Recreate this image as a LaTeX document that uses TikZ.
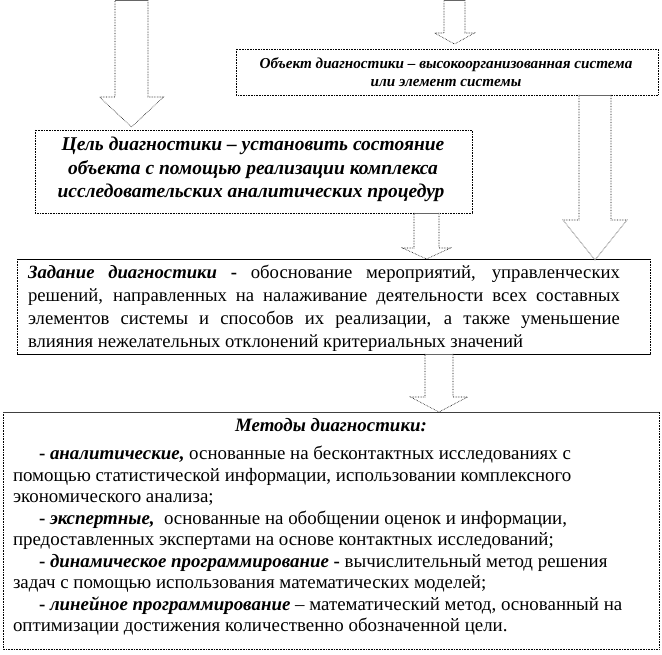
\documentclass[tikz,border=0pt]{standalone}
\usepackage{fontspec}
\setmainfont{Liberation Serif}
\newcommand\bi[1]{\textbf{\textit{#1}}}
\newcommand\blockarr[6]{% xc, halfshaft, halfhead, ytop, yhead, ytip
  \fill[white] (#1-#2,#4) -- (#1+#2,#4) -- (#1+#2,#5) -- (#1+#3,#5) -- (#1,#6) -- (#1-#3,#5) -- (#1-#2,#5) -- cycle;
  \draw[arrline] (#1+#2,#4) -- (#1+#2,#5) -- (#1+#3,#5) -- (#1,#6) -- (#1-#3,#5) -- (#1-#2,#5) -- (#1-#2,#4);
  \draw[arrtop] (#1-#2,#4) -- (#1+#2,#4);}
\begin{document}
\begin{tikzpicture}[x=1pt,y=-1pt,
  box/.style={draw=black, densely dotted, line width=0.6pt, fill=white},
  solidedge/.style={draw=black, line width=0.8pt},
  arrline/.style={draw=black, densely dotted, line width=0.6pt},
  arrtop/.style={draw=black!60, line width=0.6pt},
  txt/.style={inner sep=0pt, outer sep=0pt},
  objf/.style={font=\fontsize{15.2}{16}\selectfont},
  goalf/.style={font=\fontsize{19.5}{22}\selectfont},
  taskf/.style={font=\fontsize{18.7}{21}\selectfont},
  methf/.style={font=\fontsize{18.9}{21}\selectfont}]
\useasboundingbox (0,0) rectangle (662,655);
% boxes
\draw[box] (236,49) rectangle (658,95);
\draw[box] (35,130) rectangle (472,213);
\draw[box] (17,259) rectangle (650,354);
\draw[solidedge] (17,259) -- (650,259);
\draw[solidedge] (17,354) -- (650,354);
\draw[box] (3,412) rectangle (659,649);
\draw[draw=black!75, line width=0.8pt] (3,412) -- (659,412);
% block arrows
\blockarr{131.5}{16.5}{32}{0.5}{97}{127}
\blockarr{454.5}{10.5}{20}{0.5}{33}{44}
\blockarr{595}{16}{32}{95}{220}{260}
\blockarr{426.5}{12.5}{24}{213}{248}{259}
\blockarr{439}{14}{28.5}{354}{397}{412}
% object text
\node[txt, objf, anchor=base] (o1) at (446,69) {\bi{Объект диагностики – высокоорганизованная система}};
\node[txt, objf, anchor=base] (o2) at (446,86.5) {\bi{или элемент системы}};
% goal text
\node[txt, goalf, anchor=base] (g1) at (253,151) {\bi{Цель диагностики – установить состояние}};
\node[txt, goalf, anchor=base] (g2) at (253,174.5) {\bi{объекта с помощью реализации комплекса}};
\node[txt, goalf, anchor=base] (g3) at (251,198) {\bi{исследовательских аналитических процедур}};
% task text
\node[txt, taskf, anchor=base west] (t1) at (28,278.5) {\makebox[592pt][s]{\bi{Задание диагностики} \textbf{-} обоснование мероприятий, управленческих}};
\node[txt, taskf, anchor=base west] (t2) at (28,301.5) {\makebox[592pt][s]{решений, направленных на налаживание деятельности всех составных}};
\node[txt, taskf, anchor=base west] (t3) at (28,324.5) {\makebox[592pt][s]{элементов системы и способов их реализации, а также уменьшение}};
\node[txt, taskf, anchor=base west] (t4) at (28,347.5) {влияния нежелательных отклонений критериальных значений};
% methods text
\node[txt, methf, anchor=base] (m0) at (331,431) {\bi{Методы диагностики:}};
\node[txt, methf, anchor=base west] (m1) at (39,459) {\textbf{- \textit{аналитические,}} основанные на бесконтактных исследованиях с};
\node[txt, methf, anchor=base west] (m2) at (13,481) {помощью статистической информации, использовании комплексного};
\node[txt, methf, anchor=base west] (m3) at (13,502.5) {экономического анализа;};
\node[txt, methf, anchor=base west] (m4) at (39,524) {\textbf{- \textit{экспертные,}}\ \ основанные на обобщении оценок и информации,};
\node[txt, methf, anchor=base west] (m5) at (13,545.5) {предоставленных экспертами на основе контактных исследований;};
\node[txt, methf, anchor=base west] (m6) at (39,567) {\textbf{- \textit{динамическое программирование} -} вычислительный метод решения};
\node[txt, methf, anchor=base west] (m7) at (13,588.5) {задач с помощью использования математических моделей;};
\node[txt, methf, anchor=base west] (m8) at (39,610) {\textbf{- \textit{линейное программирование}} – математический метод, основанный на};
\node[txt, methf, anchor=base west] (m9) at (13,631.5) {оптимизации достижения количественно обозначенной цели.};
\end{tikzpicture}
\end{document}
